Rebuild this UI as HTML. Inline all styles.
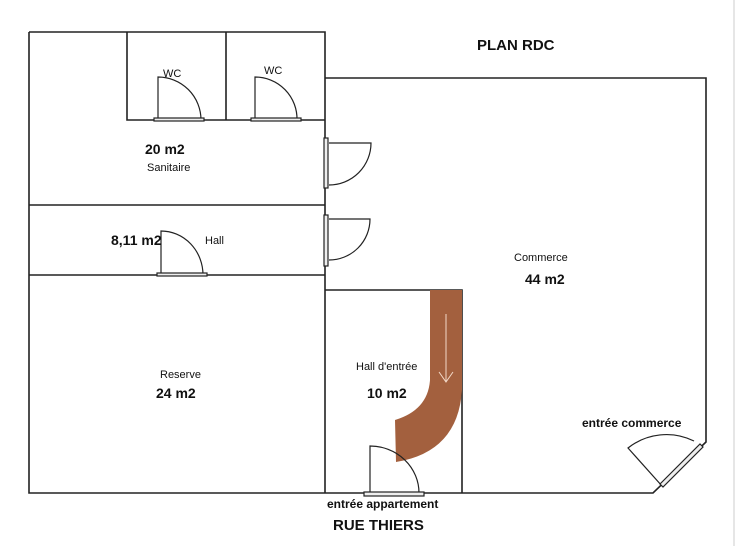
<!DOCTYPE html>
<html><head><meta charset="utf-8"><style>
html,body{margin:0;padding:0;background:#fff;}
svg{display:block}
text{font-family:"Liberation Sans",sans-serif;fill:#111}
.b{font-weight:bold}
</style></head><body>
<svg width="736" height="546" viewBox="0 0 736 546" xmlns="http://www.w3.org/2000/svg">
<g fill="none" stroke="#222" stroke-width="1.6">
<!-- left block -->
<path d="M29,32 H325 V493"/>
<path d="M29,32 V493 H653 L706,442 V78 H325"/>
<path d="M127,32 V120 H325"/>
<path d="M226,32 V120"/>
<path d="M29,205 H325"/>
<path d="M29,275 H325"/>
<path d="M325,290 H462 V493"/>
</g>
<line x1="734" y1="0" x2="734" y2="546" stroke="#ccc" stroke-width="1"/>
<!-- stairs -->
<path d="M430,290 L462,290 L462,390 Q458,452 396,462 L395,420 Q428,410 430,380 Z" fill="#a3603e"/>
<line x1="446" y1="314" x2="446" y2="382" stroke="#f3d9c8" stroke-width="1"/>
<path d="M439,372 L446,382 L453,372" fill="none" stroke="#f3d9c8" stroke-width="1"/>
<g fill="none" stroke="#222" stroke-width="1.2">
<!-- WC1 door -->
<path d="M158,120 V77 A43,43 0 0 1 201,120"/>
<rect x="154" y="118" width="50" height="3" fill="#eee"/>
<!-- WC2 door -->
<path d="M255,120 V77 A42,42 0 0 1 297,120"/>
<rect x="251" y="118" width="50" height="3" fill="#eee"/>
<!-- sanitaire right doors -->
<path d="M329,185 A42,42 0 0 0 371,143 H329"/>
<rect x="324" y="138" width="4" height="50" fill="#eee"/>
<path d="M329,260 A41,41 0 0 0 370,219 H329"/>
<rect x="324" y="215" width="4" height="51" fill="#eee"/>
<!-- hall door -->
<path d="M161,275 V231 A42,44 0 0 1 203,275"/>
<rect x="157" y="273" width="50" height="3" fill="#eee"/>
<!-- entree appartement -->
<path d="M370,493 V446 A49,47 0 0 1 419,493"/>
<rect x="364" y="492" width="60" height="4" fill="#eee"/>
<!-- entree commerce -->
<path d="M662,486 L628,448 A62,62 0 0 1 694,441"/>
<path d="M660,484 L700,444 L703,447 L663,487 Z" fill="#eee"/>
</g>
<text x="477" y="50" font-size="15" class="b">PLAN RDC</text>
<text x="163" y="77" font-size="11">WC</text>
<text x="264" y="74" font-size="11">WC</text>
<text x="145" y="154" font-size="14" class="b">20 m2</text>
<text x="147" y="171" font-size="11">Sanitaire</text>
<text x="111" y="245" font-size="14" class="b">8,11 m2</text>
<text x="205" y="244" font-size="11">Hall</text>
<text x="514" y="261" font-size="11">Commerce</text>
<text x="525" y="284" font-size="14" class="b">44 m2</text>
<text x="160" y="378" font-size="11">Reserve</text>
<text x="156" y="398" font-size="14" class="b">24 m2</text>
<text x="356" y="370" font-size="11">Hall d'entrée</text>
<text x="367" y="398" font-size="14" class="b">10 m2</text>
<text x="582" y="427" font-size="12" class="b">entrée commerce</text>
<text x="327" y="508" font-size="12" class="b">entrée appartement</text>
<text x="333" y="530" font-size="15" class="b">RUE THIERS</text>
</svg>
</body></html>
